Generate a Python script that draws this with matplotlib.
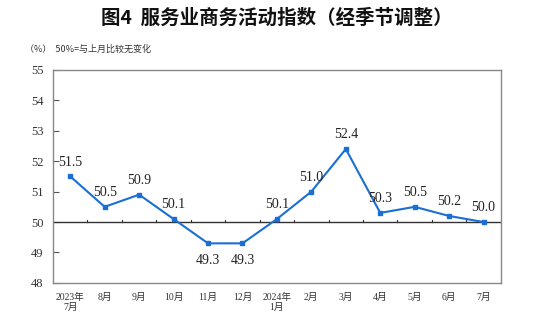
import numpy as np
import matplotlib
matplotlib.use('Agg')
import matplotlib.pyplot as plt

plt.rcParams['font.family'] = ['Liberation Serif', 'Noto Sans CJK SC', 'DejaVu Sans']

# data
months = ['2023年\n7月', '8月', '9月', '10月', '11月', '12月', '2024年\n1月',
          '2月', '3月', '4月', '5月', '6月', '7月']
values = [51.5, 50.5, 50.9, 50.1, 49.3, 49.3, 50.1, 51.0, 52.4, 50.3, 50.5, 50.2, 50.0]
yticks = [48, 49, 50, 51, 52, 53, 54, 55]

fig = plt.figure(figsize=(5.54, 3.36), dpi=100)
ax = fig.add_axes([0.0957, 0.158, 0.8083, 0.634])

x = np.arange(len(values))
ax.plot(x, values, color='#1a6fd4', lw=1.5, marker='s', ms=3.5, zorder=3)

# labels: below the point for the two low months
for xi, v in zip(x, values):
    if v < 49.5:
        ax.text(xi, v - 0.35, '%.1f' % v, ha='center', va='top', fontsize=10, color='#222222')
    else:
        ax.text(xi, v + 0.25, '%.1f' % v, ha='center', va='bottom', fontsize=10, color='#222222')

ax.set_xlim(-0.5, len(values) - 0.5)
ax.set_ylim(48, 55)
ax.set_yticks(yticks)
ax.set_yticklabels([str(t) for t in yticks], fontsize=9, color='#333333')
ax.tick_params(axis='y', direction='in', length=4, color='#555555', pad=7)

# month labels under the frame
ax.set_xticks(x)
ax.set_xticklabels(months, fontsize=7, color='#333333')
ax.tick_params(axis='x', length=0, pad=7)

# 50 baseline with small ticks between months
ax.axhline(50, color='#333333', lw=1, zorder=2)
for b in np.arange(0.5, len(values) - 1, 1):
    ax.plot([b, b], [50, 50.08], color='#333333', lw=0.8, zorder=2)

for s in ax.spines.values():
    s.set_color('#888888')
    s.set_linewidth(1)

fig.text(0.5, 0.945, '图4  服务业商务活动指数（经季节调整）', ha='center', va='center',
         fontsize=14, fontweight='bold', family=['Noto Sans CJK SC'], color='#111111')
fig.text(0.045, 0.855, '（%）  50%=与上月比较无变化', ha='left', va='center',
         fontsize=6.5, family=['Noto Sans CJK SC'], color='#333333')

fig.savefig('out.png', dpi=100)
